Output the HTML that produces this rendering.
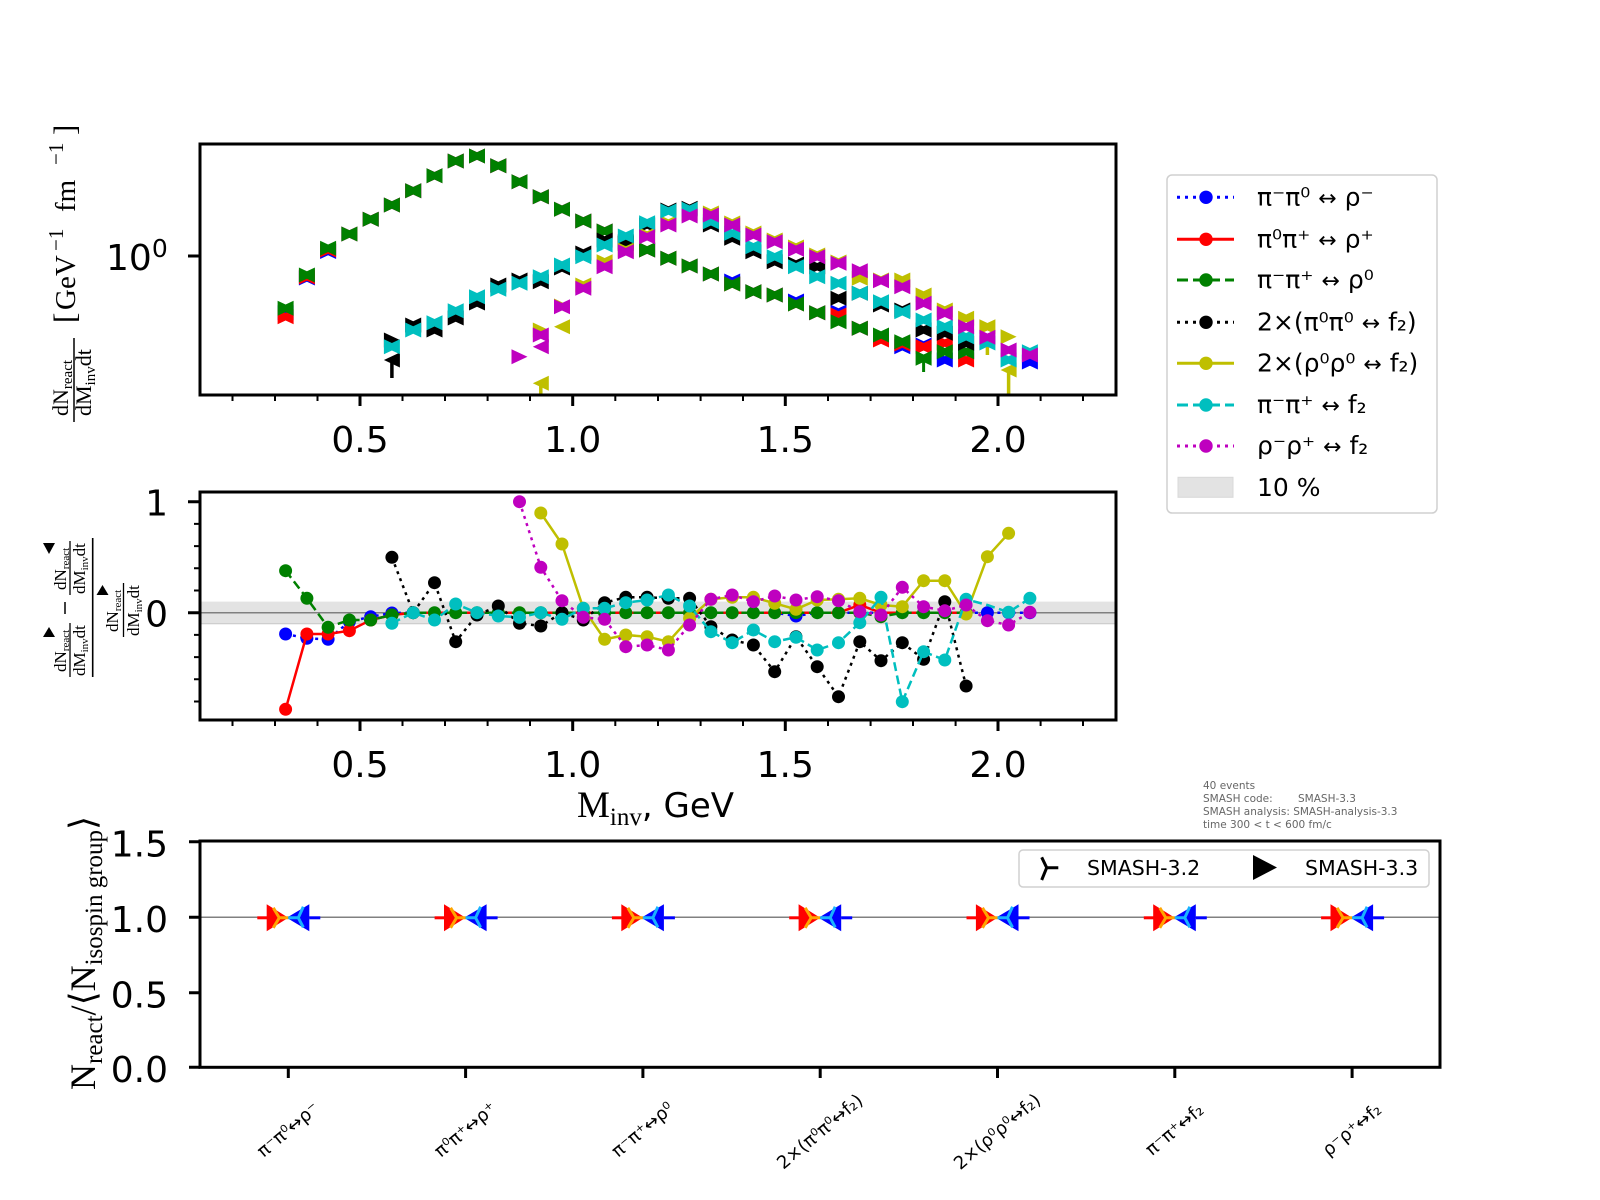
<!DOCTYPE html>
<html><head><meta charset="utf-8"><style>html,body{margin:0;padding:0;background:#fff}svg{display:block}</style></head><body>
<svg width="1600" height="1200" viewBox="0 0 1600 1200" xmlns="http://www.w3.org/2000/svg" font-family="'DejaVu Sans','Liberation Sans',sans-serif">
<defs>
<path id="bt" d="M-8-7.5L0-3.75 8-7.5V7.5L0 3.75-8 7.5Z"/>
<path id="tr" d="M-8-7.5L8 0-8 7.5Z"/>
<path id="tl" d="M8-7.5L-8 0 8 7.5Z"/>
<clipPath id="c1"><rect x="200" y="144" width="916" height="251"/></clipPath>
<clipPath id="c2"><rect x="200" y="492" width="916" height="228"/></clipPath>
<g id="cat">
<path d="M-31 0.5H-21" stroke="#ff0000" stroke-width="3"/>
<path d="M-21.6-13L0 0.5-21.6 14Z" fill="#ff0000"/>
<path d="M21-13L-1.6 0.5 21 14Z" fill="#0000ff"/>
<path d="M21 0.5H32" stroke="#0000ff" stroke-width="3"/>
<path d="M-15-9.5L-9 0.5-15 10.5M-9 0.5H0" stroke="#ffa500" stroke-width="3" fill="none"/>
<path d="M15-10.5L10 0.5 15 10M10 0.5H0" stroke="#19b2ff" stroke-width="3" fill="none"/>
</g>
</defs>
<rect width="1600" height="1200" fill="#fff"/>

<!-- ============ TOP PANEL ============ -->
<g clip-path="url(#c1)">
<g fill="#0000ff">
<use href="#bt" x="285.6" y="312.7"/><use href="#bt" x="306.9" y="278"/><use href="#bt" x="328.1" y="251.5"/><use href="#bt" x="349.4" y="234"/><use href="#bt" x="370.7" y="219.3"/><use href="#bt" x="391.9" y="205"/><use href="#bt" x="413.2" y="190.7"/><use href="#bt" x="434.5" y="175.7"/><use href="#bt" x="455.7" y="161"/><use href="#bt" x="477" y="156"/><use href="#bt" x="498.3" y="165.7"/><use href="#bt" x="519.5" y="181.7"/><use href="#bt" x="540.8" y="196.7"/><use href="#bt" x="562" y="209.3"/><use href="#bt" x="583.3" y="221"/><use href="#bt" x="604.6" y="231"/><use href="#bt" x="625.8" y="243.3"/><use href="#bt" x="647.1" y="250"/><use href="#bt" x="668.4" y="258.3"/><use href="#bt" x="689.6" y="266"/><use href="#bt" x="710.9" y="274"/><use href="#bt" x="732.2" y="281"/><use href="#bt" x="753.4" y="291.7"/><use href="#bt" x="774.7" y="295"/><use href="#bt" x="796" y="301"/><use href="#bt" x="817.2" y="312.7"/><use href="#bt" x="838.5" y="312"/><use href="#bt" x="859.8" y="328.3"/><use href="#bt" x="881" y="337"/><use href="#bt" x="902.3" y="346.7"/><use href="#bt" x="923.6" y="345"/><use href="#bt" x="944.8" y="360"/><use href="#bt" x="966.1" y="351.7"/><use href="#bt" x="1029.9" y="362"/>
</g>
<g fill="#ff0000">
<use href="#bt" x="285.6" y="316.7"/><use href="#bt" x="306.9" y="277"/><use href="#bt" x="328.1" y="250"/><use href="#bt" x="349.4" y="234"/><use href="#bt" x="370.7" y="219.3"/><use href="#bt" x="391.9" y="205"/><use href="#bt" x="413.2" y="190.7"/><use href="#bt" x="434.5" y="175.7"/><use href="#bt" x="455.7" y="161"/><use href="#bt" x="477" y="156"/><use href="#bt" x="498.3" y="165.7"/><use href="#bt" x="519.5" y="181.7"/><use href="#bt" x="540.8" y="196.7"/><use href="#bt" x="562" y="209.3"/><use href="#bt" x="583.3" y="221"/><use href="#bt" x="604.6" y="231"/><use href="#bt" x="625.8" y="243.3"/><use href="#bt" x="647.1" y="250"/><use href="#bt" x="668.4" y="258.3"/><use href="#bt" x="689.6" y="266"/><use href="#bt" x="710.9" y="274"/><use href="#bt" x="732.2" y="284"/><use href="#bt" x="753.4" y="291.7"/><use href="#bt" x="774.7" y="295"/><use href="#bt" x="796" y="304"/><use href="#bt" x="817.2" y="312.7"/><use href="#bt" x="838.5" y="315"/><use href="#bt" x="859.8" y="328.3"/><use href="#bt" x="881" y="340"/><use href="#bt" x="902.3" y="344"/><use href="#bt" x="923.6" y="346.7"/><use href="#bt" x="944.8" y="343"/><use href="#bt" x="966.1" y="360"/>
</g>
<g fill="#008000">
<use href="#bt" x="285.6" y="308.3"/><use href="#bt" x="306.9" y="275"/><use href="#bt" x="328.1" y="248.3"/><use href="#bt" x="349.4" y="234"/><use href="#bt" x="370.7" y="219.3"/><use href="#bt" x="391.9" y="205"/><use href="#bt" x="413.2" y="190.7"/><use href="#bt" x="434.5" y="175.7"/><use href="#bt" x="455.7" y="161"/><use href="#bt" x="477" y="156"/><use href="#bt" x="498.3" y="165.7"/><use href="#bt" x="519.5" y="181.7"/><use href="#bt" x="540.8" y="196.7"/><use href="#bt" x="562" y="209.3"/><use href="#bt" x="583.3" y="221"/><use href="#bt" x="604.6" y="231"/><use href="#bt" x="625.8" y="243.3"/><use href="#bt" x="647.1" y="250"/><use href="#bt" x="668.4" y="258.3"/><use href="#bt" x="689.6" y="266"/><use href="#bt" x="710.9" y="274"/><use href="#bt" x="732.2" y="284"/><use href="#bt" x="753.4" y="291.7"/><use href="#bt" x="774.7" y="295"/><use href="#bt" x="796" y="304"/><use href="#bt" x="817.2" y="312.7"/><use href="#bt" x="838.5" y="321.7"/><use href="#bt" x="859.8" y="328.3"/><use href="#bt" x="881" y="335"/><use href="#bt" x="902.3" y="341.7"/><use href="#bt" x="923.6" y="358.3"/><use href="#bt" x="944.8" y="351.7"/><use href="#bt" x="966.1" y="351.7"/>
<path d="M923.6 358V372" stroke="#008000" stroke-width="3"/>
</g>
<g fill="#000000">
<use href="#tr" x="391.9" y="340"/><use href="#tl" x="391.9" y="360"/>
<path d="M391.9 360V378" stroke="#000" stroke-width="3.5"/>
<use href="#bt" x="413.2" y="325"/><use href="#bt" x="434.5" y="330"/><use href="#bt" x="455.7" y="318"/><use href="#bt" x="477" y="303"/><use href="#bt" x="498.3" y="285"/><use href="#bt" x="519.5" y="280"/><use href="#bt" x="540.8" y="281.7"/><use href="#bt" x="562" y="268"/><use href="#bt" x="583.3" y="253"/><use href="#bt" x="604.6" y="240"/><use href="#bt" x="625.8" y="241.7"/><use href="#bt" x="647.1" y="225"/><use href="#bt" x="668.4" y="210"/><use href="#bt" x="689.6" y="208.3"/><use href="#bt" x="710.9" y="225"/><use href="#bt" x="732.2" y="238.3"/><use href="#bt" x="753.4" y="251.7"/><use href="#bt" x="774.7" y="261.7"/><use href="#bt" x="796" y="264"/><use href="#bt" x="817.2" y="266.7"/><use href="#bt" x="838.5" y="298.3"/><use href="#bt" x="859.8" y="293.3"/><use href="#bt" x="881" y="305"/><use href="#bt" x="902.3" y="310"/><use href="#bt" x="923.6" y="330"/><use href="#bt" x="944.8" y="333.3"/><use href="#bt" x="966.1" y="343.3"/>
</g>
<g fill="#bfbf00">
<use href="#tr" x="540.8" y="330"/><use href="#tl" x="540.8" y="383.3"/>
<path d="M540.8 383V400" stroke="#bfbf00" stroke-width="3.5"/>
<use href="#tr" x="562" y="306"/><use href="#tl" x="562" y="326.7"/>
<use href="#bt" x="583.3" y="285"/><use href="#bt" x="604.6" y="261.7"/><use href="#bt" x="625.8" y="250"/><use href="#bt" x="647.1" y="235"/><use href="#bt" x="668.4" y="223"/><use href="#bt" x="689.6" y="214"/><use href="#bt" x="710.9" y="213"/><use href="#bt" x="732.2" y="223"/><use href="#bt" x="753.4" y="233"/><use href="#bt" x="774.7" y="240"/><use href="#bt" x="796" y="247"/><use href="#bt" x="817.2" y="255"/><use href="#bt" x="838.5" y="262"/><use href="#bt" x="859.8" y="278.3"/><use href="#bt" x="881" y="280"/><use href="#bt" x="902.3" y="280"/><use href="#bt" x="923.6" y="295"/><use href="#bt" x="944.8" y="310"/><use href="#bt" x="966.1" y="318.3"/><use href="#bt" x="987.4" y="326.7"/>
<path d="M987.4 334V355" stroke="#bfbf00" stroke-width="3.5"/>
<use href="#tr" x="1008.6" y="336.7"/><use href="#tl" x="1008.6" y="370"/>
<path d="M1008.6 370V400" stroke="#bfbf00" stroke-width="3.5"/>
</g>
<g fill="#00bfbf">
<use href="#bt" x="391.9" y="346.7"/><use href="#bt" x="413.2" y="330"/><use href="#bt" x="434.5" y="322.7"/><use href="#bt" x="455.7" y="310.7"/><use href="#bt" x="477" y="296.7"/><use href="#bt" x="498.3" y="289.3"/><use href="#bt" x="519.5" y="283.3"/><use href="#bt" x="540.8" y="276.7"/><use href="#bt" x="562" y="265"/><use href="#bt" x="583.3" y="256.7"/><use href="#bt" x="604.6" y="245"/><use href="#bt" x="625.8" y="236"/><use href="#bt" x="647.1" y="222.7"/><use href="#bt" x="668.4" y="211"/><use href="#bt" x="689.6" y="209.3"/><use href="#bt" x="710.9" y="221.7"/><use href="#bt" x="732.2" y="233.3"/><use href="#bt" x="753.4" y="246.7"/><use href="#bt" x="774.7" y="256.7"/><use href="#bt" x="796" y="266.7"/><use href="#bt" x="817.2" y="276.7"/><use href="#bt" x="838.5" y="283.3"/><use href="#bt" x="859.8" y="293.3"/><use href="#bt" x="881" y="301.7"/><use href="#bt" x="902.3" y="311.7"/><use href="#bt" x="923.6" y="320"/><use href="#bt" x="944.8" y="326.7"/><use href="#bt" x="966.1" y="336.7"/><use href="#bt" x="987.4" y="343"/><use href="#bt" x="1008.6" y="360"/><use href="#bt" x="1029.9" y="351.7"/>
</g>
<g fill="#bf00bf">
<use href="#tr" x="519.5" y="356.7"/><use href="#tl" x="540.8" y="346.7"/>
<use href="#bt" x="540.8" y="335"/><use href="#bt" x="562" y="306.7"/><use href="#bt" x="583.3" y="288.3"/><use href="#bt" x="604.6" y="266.7"/><use href="#bt" x="625.8" y="251.7"/><use href="#bt" x="647.1" y="236.7"/><use href="#bt" x="668.4" y="225"/><use href="#bt" x="689.6" y="216"/><use href="#bt" x="710.9" y="215"/><use href="#bt" x="732.2" y="225"/><use href="#bt" x="753.4" y="235"/><use href="#bt" x="774.7" y="241.7"/><use href="#bt" x="796" y="249.3"/><use href="#bt" x="817.2" y="256.7"/><use href="#bt" x="838.5" y="263.3"/><use href="#bt" x="859.8" y="270.7"/><use href="#bt" x="881" y="280.7"/><use href="#bt" x="902.3" y="286.7"/><use href="#bt" x="923.6" y="303.3"/><use href="#bt" x="944.8" y="313.3"/><use href="#bt" x="966.1" y="326.7"/><use href="#bt" x="987.4" y="337.3"/><use href="#bt" x="1008.6" y="350"/><use href="#bt" x="1029.9" y="355"/>
</g>
</g>
<rect x="200" y="144" width="916" height="251" fill="none" stroke="#000" stroke-width="3"/>
<g stroke="#000">
<path d="M360 395V406M572.7 395V406M785.3 395V406M998 395V406" stroke-width="3"/>
<path d="M232.5 395V401M275 395V401M317.5 395V401M402.5 395V401M445 395V401M487.6 395V401M530 395V401M615.3 395V401M658 395V401M700.6 395V401M743 395V401M828 395V401M870.6 395V401M913 395V401M955.6 395V401M1040.6 395V401M1083 395V401" stroke-width="2"/>
<path d="M188 256H200" stroke-width="3"/>
</g>
<g font-size="36" text-anchor="middle" fill="#000">
<text x="360" y="452">0.5</text><text x="572.7" y="452">1.0</text><text x="785.3" y="452">1.5</text><text x="998" y="452">2.0</text>
</g>
<text x="106" y="270" font-size="36">10<tspan font-size="25" dy="-13">0</tspan></text>
<!-- top ylabel -->
<g transform="translate(75,323) rotate(-90)" font-family="'Liberation Serif','DejaVu Serif',serif" fill="#000">
<text x="0" y="0" font-size="31">[</text>
<text x="13" y="0" font-size="29">GeV</text>
<text x="72" y="-12" font-size="21">−1</text>
<text x="111" y="0" font-size="29">fm</text>
<text x="158" y="-12" font-size="21">−1</text>
<text x="188" y="0" font-size="31">]</text>
</g>
<g transform="translate(0,422) rotate(-90)" font-family="'Liberation Serif','DejaVu Serif',serif" fill="#000">
<text x="6" y="68" font-size="22">dN<tspan font-size="15" dy="4">react</tspan></text>
<path d="M0 74H84" stroke="#000" stroke-width="1.5"/>
<text x="6" y="91" font-size="22">dM<tspan font-size="15" dy="4">inv</tspan><tspan dy="-4">dt</tspan></text>
</g>

<!-- legend top -->
<rect x="1167" y="175" width="270" height="338" rx="5" fill="#fff" stroke="#d0d0d0" stroke-width="1.5"/>
<g stroke-width="3" fill="none">
<path d="M1177 197.3H1234" stroke="#0000ff" stroke-dasharray="3 5"/>
<path d="M1177 239.3H1234" stroke="#ff0000"/>
<path d="M1177 280H1234" stroke="#008000" stroke-dasharray="11 5"/>
<path d="M1177 322.3H1234" stroke="#000" stroke-dasharray="3 5"/>
<path d="M1177 363.3H1234" stroke="#bfbf00"/>
<path d="M1177 405H1234" stroke="#00bfbf" stroke-dasharray="11 5"/>
<path d="M1177 446H1234" stroke="#bf00bf" stroke-dasharray="3 5"/>
</g>
<circle cx="1206" cy="197.3" r="6.7" fill="#0000ff"/>
<circle cx="1206" cy="239.3" r="6.7" fill="#ff0000"/>
<circle cx="1206" cy="280" r="6.7" fill="#008000"/>
<circle cx="1206" cy="322.3" r="6.7" fill="#000"/>
<circle cx="1206" cy="363.3" r="6.7" fill="#bfbf00"/>
<circle cx="1206" cy="405" r="6.7" fill="#00bfbf"/>
<circle cx="1206" cy="446" r="6.7" fill="#bf00bf"/>
<rect x="1178" y="477.3" width="55" height="20" fill="#e3e3e3" stroke="#d8d8d8" stroke-width="1"/>
<g font-size="25" fill="#000">
<text x="1257" y="205.3">π⁻π⁰ <tspan font-size="22">↔</tspan> ρ⁻</text>
<text x="1257" y="247.3">π⁰π⁺ <tspan font-size="22">↔</tspan> ρ⁺</text>
<text x="1257" y="288">π⁻π⁺ <tspan font-size="22">↔</tspan> ρ⁰</text>
<text x="1257" y="330.3">2×(π⁰π⁰ <tspan font-size="22">↔</tspan> f₂)</text>
<text x="1257" y="371.3">2×(ρ⁰ρ⁰ <tspan font-size="22">↔</tspan> f₂)</text>
<text x="1257" y="413">π⁻π⁺ <tspan font-size="22">↔</tspan> f₂</text>
<text x="1257" y="454">ρ⁻ρ⁺ <tspan font-size="22">↔</tspan> f₂</text>
<text x="1257" y="496">10 %</text>
</g>

<!-- ============ MIDDLE PANEL ============ -->
<rect x="200" y="601.6" width="916" height="22.2" fill="#e3e3e3"/>
<path d="M200 612.7H1116" stroke="#808080" stroke-width="1.5"/>
<path d="M200 623.8H1116" stroke="#c8c8c8" stroke-width="1"/>
<g clip-path="url(#c2)">
<polyline fill="none" stroke="#0000ff" stroke-width="2.5" stroke-dasharray="3 4.5" points="285.6,634 306.9,638.3 328.1,639.3 349.4,621.7 370.7,616.7 391.9,613 413.2,612.7 774.7,612.7 796,616 817.2,612.7 1029.9,612.7"/>
<g fill="#0000ff"><circle cx="285.6" cy="634" r="6.5"/><circle cx="306.9" cy="638.3" r="6.5"/><circle cx="328.1" cy="639.3" r="6.5"/><circle cx="349.4" cy="621.7" r="6.5"/><circle cx="370.7" cy="616.7" r="6.5"/><circle cx="391.9" cy="613" r="6.5"/><circle cx="796" cy="616" r="6.5"/><circle cx="987.4" cy="612.7" r="6.5"/><circle cx="1008.6" cy="612.7" r="6.5"/><circle cx="1029.9" cy="612.7" r="6.5"/></g>
<polyline fill="none" stroke="#ff0000" stroke-width="2.5" points="285.6,709.3 306.9,634 328.1,634 349.4,630.7 370.7,620 391.9,615 413.2,612.7 838.5,612.7 859.8,605 881,612.7 966.1,612.7"/>
<g fill="#ff0000"><circle cx="285.6" cy="709.3" r="6.5"/><circle cx="306.9" cy="634" r="6.5"/><circle cx="328.1" cy="634" r="6.5"/><circle cx="349.4" cy="630.7" r="6.5"/><circle cx="370.7" cy="620" r="6.5"/><circle cx="391.9" cy="615" r="6.5"/><circle cx="859.8" cy="605" r="6.5"/></g>
<polyline fill="none" stroke="#008000" stroke-width="2.5" stroke-dasharray="9 4.5" points="285.6,570.7 306.9,598.3 328.1,627.3 349.4,620 370.7,620 391.9,615 413.2,612.7 859.8,612.7 881,616.7 902.3,612.7 966.1,612.7"/>
<g fill="#008000"><circle cx="285.6" cy="570.7" r="6.5"/><circle cx="306.9" cy="598.3" r="6.5"/><circle cx="328.1" cy="627.3" r="6.5"/><circle cx="349.4" cy="620" r="6.5"/><circle cx="370.7" cy="620" r="6.5"/><circle cx="391.9" cy="615" r="6.5"/><circle cx="413.2" cy="612.7" r="6.5"/><circle cx="434.5" cy="612.7" r="6.5"/><circle cx="455.7" cy="612.7" r="6.5"/><circle cx="477" cy="612.7" r="6.5"/><circle cx="498.3" cy="612.7" r="6.5"/><circle cx="519.5" cy="612.7" r="6.5"/><circle cx="540.8" cy="612.7" r="6.5"/><circle cx="562" cy="612.7" r="6.5"/><circle cx="583.3" cy="612.7" r="6.5"/><circle cx="604.6" cy="612.7" r="6.5"/><circle cx="625.8" cy="612.7" r="6.5"/><circle cx="647.1" cy="612.7" r="6.5"/><circle cx="668.4" cy="612.7" r="6.5"/><circle cx="689.6" cy="612.7" r="6.5"/><circle cx="710.9" cy="612.7" r="6.5"/><circle cx="732.2" cy="612.7" r="6.5"/><circle cx="753.4" cy="612.7" r="6.5"/><circle cx="774.7" cy="612.7" r="6.5"/><circle cx="796" cy="612.7" r="6.5"/><circle cx="817.2" cy="612.7" r="6.5"/><circle cx="838.5" cy="612.7" r="6.5"/><circle cx="859.8" cy="612.7" r="6.5"/><circle cx="881" cy="616.7" r="6.5"/><circle cx="902.3" cy="612.7" r="6.5"/><circle cx="923.6" cy="612.7" r="6.5"/><circle cx="944.8" cy="612.7" r="6.5"/><circle cx="966.1" cy="612.7" r="6.5"/></g>
<polyline fill="none" stroke="#000" stroke-width="2.5" stroke-dasharray="3 4.5" points="391.9,557.3 413.2,612.7 434.5,582.7 455.7,641.7 477,615 498.3,606 519.5,623.3 540.8,626 562,612.7 583.3,620 604.6,602.7 625.8,597.3 647.1,597.3 668.4,598.3 689.6,598.3 710.9,626.7 732.2,640 753.4,645 774.7,671.7 796,636.7 817.2,666.7 838.5,696.7 859.8,641.7 881,660.7 902.3,642.7 923.6,659.3 944.8,601.7 966.1,686"/>
<g fill="#000"><circle cx="391.9" cy="557.3" r="6.5"/><circle cx="413.2" cy="612.7" r="6.5"/><circle cx="434.5" cy="582.7" r="6.5"/><circle cx="455.7" cy="641.7" r="6.5"/><circle cx="477" cy="615" r="6.5"/><circle cx="498.3" cy="606" r="6.5"/><circle cx="519.5" cy="623.3" r="6.5"/><circle cx="540.8" cy="626" r="6.5"/><circle cx="562" cy="612.7" r="6.5"/><circle cx="583.3" cy="620" r="6.5"/><circle cx="604.6" cy="602.7" r="6.5"/><circle cx="625.8" cy="597.3" r="6.5"/><circle cx="647.1" cy="597.3" r="6.5"/><circle cx="668.4" cy="598.3" r="6.5"/><circle cx="689.6" cy="598.3" r="6.5"/><circle cx="710.9" cy="626.7" r="6.5"/><circle cx="732.2" cy="640" r="6.5"/><circle cx="753.4" cy="645" r="6.5"/><circle cx="774.7" cy="671.7" r="6.5"/><circle cx="796" cy="636.7" r="6.5"/><circle cx="817.2" cy="666.7" r="6.5"/><circle cx="838.5" cy="696.7" r="6.5"/><circle cx="859.8" cy="641.7" r="6.5"/><circle cx="881" cy="660.7" r="6.5"/><circle cx="902.3" cy="642.7" r="6.5"/><circle cx="923.6" cy="659.3" r="6.5"/><circle cx="944.8" cy="601.7" r="6.5"/><circle cx="966.1" cy="686" r="6.5"/></g>
<polyline fill="none" stroke="#bfbf00" stroke-width="2.5" points="540.8,513 562,544 583.3,608.3 604.6,639.3 625.8,635 647.1,636.7 668.4,641.7 689.6,618.3 710.9,599.3 732.2,597.3 753.4,597.3 774.7,603.3 796,609.3 817.2,600 838.5,599.3 859.8,598.3 881,605 902.3,606.7 923.6,580.7 944.8,580.7 966.1,614 987.4,556.7 1008.6,533.3"/>
<g fill="#bfbf00"><circle cx="540.8" cy="513" r="6.5"/><circle cx="562" cy="544" r="6.5"/><circle cx="583.3" cy="608.3" r="6.5"/><circle cx="604.6" cy="639.3" r="6.5"/><circle cx="625.8" cy="635" r="6.5"/><circle cx="647.1" cy="636.7" r="6.5"/><circle cx="668.4" cy="641.7" r="6.5"/><circle cx="689.6" cy="618.3" r="6.5"/><circle cx="710.9" cy="599.3" r="6.5"/><circle cx="732.2" cy="597.3" r="6.5"/><circle cx="753.4" cy="597.3" r="6.5"/><circle cx="774.7" cy="603.3" r="6.5"/><circle cx="796" cy="609.3" r="6.5"/><circle cx="817.2" cy="600" r="6.5"/><circle cx="838.5" cy="599.3" r="6.5"/><circle cx="859.8" cy="598.3" r="6.5"/><circle cx="881" cy="605" r="6.5"/><circle cx="902.3" cy="606.7" r="6.5"/><circle cx="923.6" cy="580.7" r="6.5"/><circle cx="944.8" cy="580.7" r="6.5"/><circle cx="966.1" cy="614" r="6.5"/><circle cx="987.4" cy="556.7" r="6.5"/><circle cx="1008.6" cy="533.3" r="6.5"/></g>
<polyline fill="none" stroke="#00bfbf" stroke-width="2.5" stroke-dasharray="9 4.5" points="391.9,623.3 413.2,612.7 434.5,620 455.7,604 477,612.7 498.3,616 519.5,617.3 540.8,612.7 562,619.3 583.3,608.3 604.6,608.3 625.8,602.7 647.1,600 668.4,595 689.6,606 710.9,631.7 732.2,642.7 753.4,630 774.7,641.7 796,637.3 817.2,650 838.5,642.7 859.8,622.7 881,597.3 902.3,701.7 923.6,651.7 944.8,660 966.1,599.3 987.4,605 1008.6,612.3 1029.9,598.3"/>
<g fill="#00bfbf"><circle cx="391.9" cy="623.3" r="6.5"/><circle cx="413.2" cy="612.7" r="6.5"/><circle cx="434.5" cy="620" r="6.5"/><circle cx="455.7" cy="604" r="6.5"/><circle cx="477" cy="612.7" r="6.5"/><circle cx="498.3" cy="616" r="6.5"/><circle cx="519.5" cy="617.3" r="6.5"/><circle cx="540.8" cy="612.7" r="6.5"/><circle cx="562" cy="619.3" r="6.5"/><circle cx="583.3" cy="608.3" r="6.5"/><circle cx="604.6" cy="608.3" r="6.5"/><circle cx="625.8" cy="602.7" r="6.5"/><circle cx="647.1" cy="600" r="6.5"/><circle cx="668.4" cy="595" r="6.5"/><circle cx="689.6" cy="606" r="6.5"/><circle cx="710.9" cy="631.7" r="6.5"/><circle cx="732.2" cy="642.7" r="6.5"/><circle cx="753.4" cy="630" r="6.5"/><circle cx="774.7" cy="641.7" r="6.5"/><circle cx="796" cy="637.3" r="6.5"/><circle cx="817.2" cy="650" r="6.5"/><circle cx="838.5" cy="642.7" r="6.5"/><circle cx="859.8" cy="622.7" r="6.5"/><circle cx="881" cy="597.3" r="6.5"/><circle cx="902.3" cy="701.7" r="6.5"/><circle cx="923.6" cy="651.7" r="6.5"/><circle cx="944.8" cy="660" r="6.5"/><circle cx="966.1" cy="599.3" r="6.5"/><circle cx="1008.6" cy="612.3" r="6.5"/><circle cx="1029.9" cy="598.3" r="6.5"/></g>
<polyline fill="none" stroke="#bf00bf" stroke-width="2.5" stroke-dasharray="3 4.5" points="519.5,501.7 540.8,567.3 562,600.7 583.3,617.3 604.6,619.3 625.8,646.7 647.1,645 668.4,650 689.6,625 710.9,599.3 732.2,595 753.4,601.7 774.7,596 796,600 817.2,596.7 838.5,600.7 859.8,611.7 881,615 902.3,587.3 923.6,606.7 944.8,610.7 966.1,605 987.4,620.7 1008.6,625 1029.9,612.3"/>
<g fill="#bf00bf"><circle cx="519.5" cy="501.7" r="6.5"/><circle cx="540.8" cy="567.3" r="6.5"/><circle cx="562" cy="600.7" r="6.5"/><circle cx="583.3" cy="617.3" r="6.5"/><circle cx="604.6" cy="619.3" r="6.5"/><circle cx="625.8" cy="646.7" r="6.5"/><circle cx="647.1" cy="645" r="6.5"/><circle cx="668.4" cy="650" r="6.5"/><circle cx="689.6" cy="625" r="6.5"/><circle cx="710.9" cy="599.3" r="6.5"/><circle cx="732.2" cy="595" r="6.5"/><circle cx="753.4" cy="601.7" r="6.5"/><circle cx="774.7" cy="596" r="6.5"/><circle cx="796" cy="600" r="6.5"/><circle cx="817.2" cy="596.7" r="6.5"/><circle cx="838.5" cy="600.7" r="6.5"/><circle cx="859.8" cy="611.7" r="6.5"/><circle cx="881" cy="615" r="6.5"/><circle cx="902.3" cy="587.3" r="6.5"/><circle cx="923.6" cy="606.7" r="6.5"/><circle cx="944.8" cy="610.7" r="6.5"/><circle cx="966.1" cy="605" r="6.5"/><circle cx="987.4" cy="620.7" r="6.5"/><circle cx="1008.6" cy="625" r="6.5"/><circle cx="1029.9" cy="612.3" r="6.5"/></g>
</g>
<rect x="200" y="492" width="916" height="228" fill="none" stroke="#000" stroke-width="3"/>
<g stroke="#000">
<path d="M360 720V731M572.7 720V731M785.3 720V731M998 720V731" stroke-width="3"/>
<path d="M232.5 720V726M275 720V726M317.5 720V726M402.5 720V726M445 720V726M487.6 720V726M530 720V726M615.3 720V726M658 720V726M700.6 720V726M743 720V726M828 720V726M870.6 720V726M913 720V726M955.6 720V726M1040.6 720V726M1083 720V726" stroke-width="2"/>
<path d="M188 501.7H200M188 612.7H200" stroke-width="3"/>
<path d="M194 523.9H200M194 546.1H200M194 568.3H200M194 590.5H200M194 634.9H200M194 657.1H200M194 679.3H200M194 701.5H200" stroke-width="2"/>
</g>
<g font-size="36" text-anchor="middle" fill="#000">
<text x="360" y="777">0.5</text><text x="572.7" y="777">1.0</text><text x="785.3" y="777">1.5</text><text x="998" y="777">2.0</text>
</g>
<g font-size="36" text-anchor="end" fill="#000">
<text x="168" y="515.5">1</text><text x="168" y="626.5">0</text>
</g>
<!-- x label -->
<text x="577" y="817" fill="#000"><tspan font-family="'Liberation Serif','DejaVu Serif',serif" font-size="37">M</tspan><tspan font-family="'Liberation Serif','DejaVu Serif',serif" font-size="25" dy="8">inv</tspan><tspan font-size="34" dy="-8">, GeV</tspan></text>
<!-- middle ylabel -->
<g transform="translate(0,680) rotate(-90)" font-family="'Liberation Serif','DejaVu Serif',serif" fill="#000">
<text x="8" y="66" font-size="17">dN<tspan font-size="11" dy="3">react</tspan></text>
<path d="M3 70H57" stroke="#000" stroke-width="1.3"/>
<text x="4" y="85" font-size="17">dM<tspan font-size="11" dy="3">inv</tspan><tspan dy="-3">dt</tspan></text>
<path d="M66 65H78" stroke="#000" stroke-width="1.5"/>
<text x="90" y="66" font-size="17">dN<tspan font-size="11" dy="3">react</tspan></text>
<path d="M85 70H139" stroke="#000" stroke-width="1.3"/>
<text x="86" y="85" font-size="17">dM<tspan font-size="11" dy="3">inv</tspan><tspan dy="-3">dt</tspan></text>
<path d="M3 92.7H142" stroke="#000" stroke-width="1.6"/>
<text x="48" y="118" font-size="17">dN<tspan font-size="11" dy="3">react</tspan></text>
<path d="M43 123.5H97" stroke="#000" stroke-width="1.3"/>
<text x="44" y="139" font-size="17">dM<tspan font-size="11" dy="3">inv</tspan><tspan dy="-3">dt</tspan></text>
</g>
<path d="M43 637L55 637 49 627Z" fill="#000"/>
<path d="M43 543L55 543 49 554Z" fill="#000"/>
<path d="M96.5 595L108.5 595 102.5 585Z" fill="#000"/>

<!-- info text -->
<g font-size="10.5" fill="#666">
<text x="1203" y="789">40 events</text>
<text x="1203" y="802">SMASH code:</text><text x="1298" y="802">SMASH-3.3</text>
<text x="1203" y="815">SMASH analysis: SMASH-analysis-3.3</text>
<text x="1203" y="828">time 300 &lt; t &lt; 600 fm/c</text>
</g>

<!-- ============ BOTTOM PANEL ============ -->
<path d="M200 917.3H1440" stroke="#808080" stroke-width="1.5"/>
<use href="#cat" x="288.3" y="917.3"/>
<use href="#cat" x="465.6" y="917.3"/>
<use href="#cat" x="642.9" y="917.3"/>
<use href="#cat" x="820.2" y="917.3"/>
<use href="#cat" x="997.5" y="917.3"/>
<use href="#cat" x="1174.8" y="917.3"/>
<use href="#cat" x="1352.1" y="917.3"/>
<rect x="200" y="841" width="1240" height="226.3" fill="none" stroke="#000" stroke-width="3"/>
<g stroke="#000" stroke-width="3">
<path d="M189 841.7H200M189 917.3H200M189 992.7H200M189 1067.3H200"/>
<path d="M288.3 1067V1078M465.6 1067V1078M642.9 1067V1078M820.2 1067V1078M997.5 1067V1078M1174.8 1067V1078M1352.1 1067V1078"/>
</g>
<g font-size="36" text-anchor="end" fill="#000">
<text x="168" y="856.5">1.5</text><text x="168" y="932">1.0</text><text x="168" y="1007.5">0.5</text><text x="168" y="1082">0.0</text>
</g>
<g font-size="18" fill="#000" text-anchor="middle" dominant-baseline="central">
<text transform="translate(288.3,1130) rotate(-40)">π⁻π⁰↔ρ⁻</text>
<text transform="translate(465.6,1130) rotate(-40)">π⁰π⁺↔ρ⁺</text>
<text transform="translate(642.9,1130) rotate(-40)">π⁻π⁺↔ρ⁰</text>
<text transform="translate(820.2,1132) rotate(-40)">2×(π⁰π⁰↔f₂)</text>
<text transform="translate(997.5,1132) rotate(-40)">2×(ρ⁰ρ⁰↔f₂)</text>
<text transform="translate(1174.8,1130) rotate(-40)">π⁻π⁺↔f₂</text>
<text transform="translate(1352.1,1130) rotate(-40)">ρ⁻ρ⁺↔f₂</text>
</g>
<!-- bottom ylabel -->
<g transform="translate(95,1090) rotate(-90)" font-family="'Liberation Serif','DejaVu Serif',serif" fill="#000">
<text x="0" y="0" font-size="36">N<tspan font-size="25" dy="7">react</tspan><tspan font-size="36" dy="-7">/⟨N</tspan><tspan font-size="25" dy="7">isospin group</tspan><tspan font-size="36" dy="-7">⟩</tspan></text>
</g>
<!-- bottom legend -->
<rect x="1019" y="850" width="410" height="37" rx="4" fill="#fff" stroke="#d0d0d0" stroke-width="1.5"/>
<path d="M1041.7 857.3L1046.7 867.7 1041.7 880M1046.7 867.7H1058.3" stroke="#000" stroke-width="3" fill="none"/>
<path d="M1253 855L1277 867.5 1253 880Z" fill="#000"/>
<g font-size="20.5" fill="#000">
<text x="1087" y="875">SMASH-3.2</text>
<text x="1305" y="875">SMASH-3.3</text>
</g>
</svg>
</body></html>
